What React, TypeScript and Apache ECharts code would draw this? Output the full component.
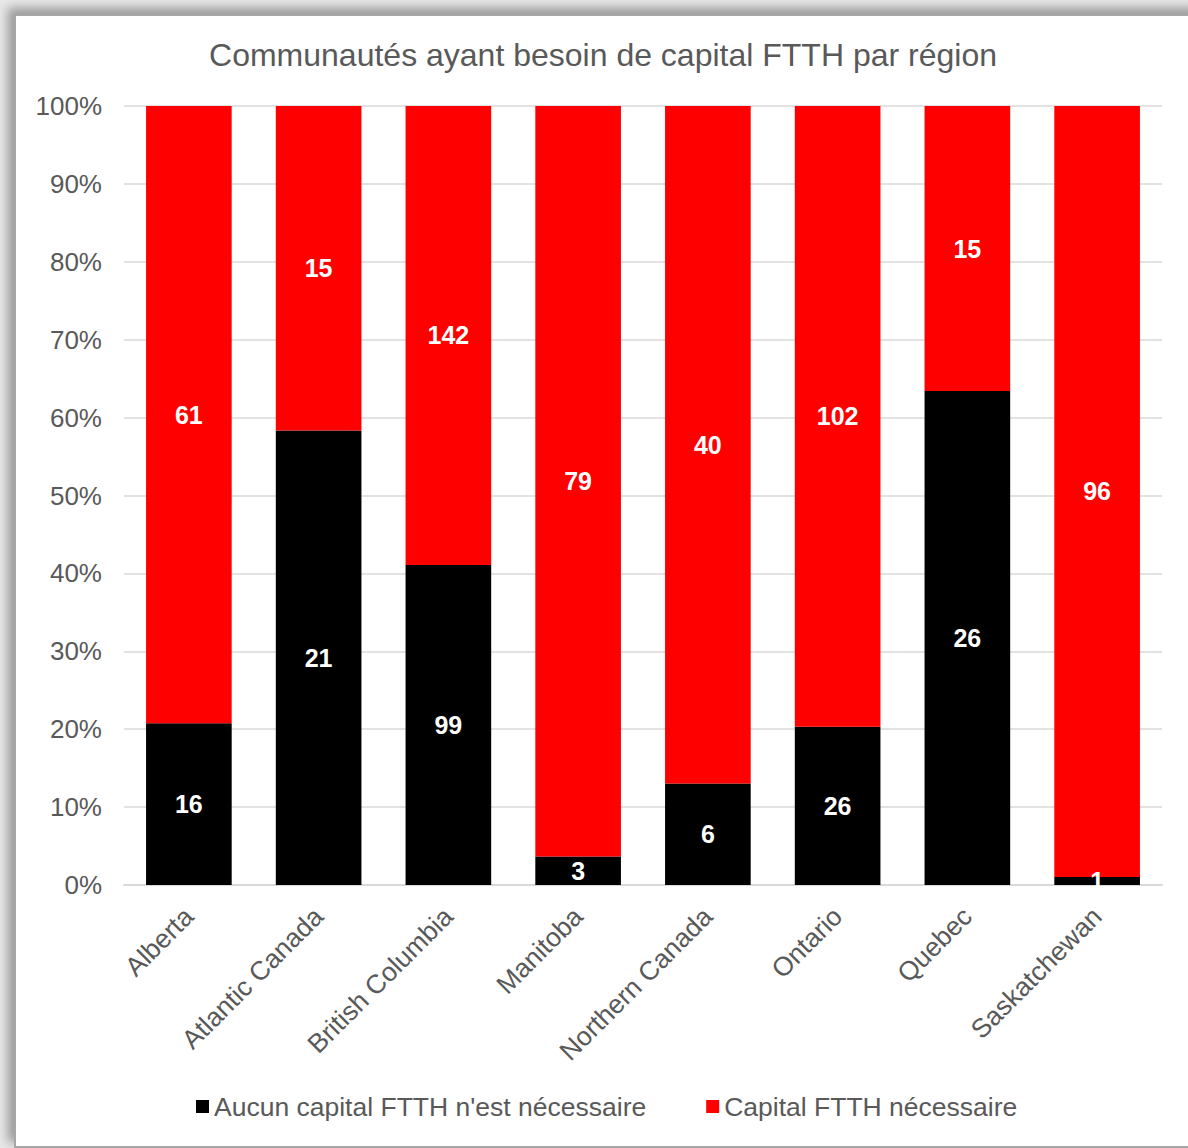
import React, { useEffect, useRef } from "react";
import * as echarts from "echarts";

const categories = [
  "Alberta",
  "Atlantic Canada",
  "British Columbia",
  "Manitoba",
  "Northern Canada",
  "Ontario",
  "Quebec",
  "Saskatchewan",
];
const noCapital = [16, 21, 99, 3, 6, 26, 26, 1];
const capitalNeeded = [61, 15, 142, 79, 40, 102, 15, 96];
const seriesNames = ["Aucun capital FTTH n'est nécessaire", "Capital FTTH nécessaire"];
const titleText = "Communautés ayant besoin de capital FTTH par région";

const FONT = "'Liberation Sans', Arial, sans-serif";
const GREY = "#595959";

export default function App() {
  const ref = useRef<HTMLDivElement>(null);
  useEffect(() => {
    if (!ref.current) return;
    const chart = echarts.init(ref.current, undefined, { renderer: "svg" });
    const totals = categories.map((_, i) => noCapital[i] + capitalNeeded[i]);
    const mk = (arr: number[]) =>
      arr.map((v, i) => ({ value: (v / totals[i]) * 100, raw: v }));
    const label = {
      show: true,
      position: "inside",
      color: "#fff",
      fontWeight: "bold",
      fontSize: 25,
      fontFamily: FONT,
      formatter: (p: any) => String(p.data.raw),
    };
    chart.setOption({
      animation: false,
      textStyle: { fontFamily: FONT },
      graphic: [
        {
          type: "text",
          x: 603,
          y: 55,
          style: {
            text: titleText,
            fill: GREY,
            font: `32px ${FONT}`,
            textAlign: "center",
            textVerticalAlign: "middle",
          },
        },
      ],
      grid: { left: 124, right: 26, top: 106, bottom: 263, containLabel: false },
      legend: {
        bottom: 23,
        left: 191,
        icon: "rect",
        itemWidth: 13,
        itemHeight: 13,
        itemGap: 60,
        itemTextGap: 7,
        textStyle: { color: GREY, fontSize: 26.5, fontFamily: FONT },
        data: seriesNames,
      },
      xAxis: {
        type: "category",
        data: categories,
        axisLine: { lineStyle: { color: "#d9d9d9", width: 2 } },
        axisTick: { show: false },
        axisLabel: {
          rotate: 45,
          color: GREY,
          fontSize: 26.5,
          fontFamily: FONT,
          margin: 27,
          interval: 0,
        },
      },
      yAxis: {
        type: "value",
        min: 0,
        max: 100,
        interval: 10,
        axisLabel: {
          formatter: "{value}%",
          color: GREY,
          fontSize: 26,
          fontFamily: FONT,
          margin: 22,
        },
        axisLine: { show: false },
        splitLine: { lineStyle: { color: "#d9d9d9", width: 1.5 } },
      },
      series: [
        {
          name: seriesNames[0],
          type: "bar",
          stack: "s",
          barWidth: "66%",
          itemStyle: { color: "#000000" },
          label,
          data: mk(noCapital),
        },
        {
          name: seriesNames[1],
          type: "bar",
          stack: "s",
          barWidth: "66%",
          itemStyle: { color: "#ff0000" },
          label,
          data: mk(capitalNeeded),
        },
      ],
    });
    return () => chart.dispose();
  }, []);

  return (
    <div
      style={{
        position: "absolute",
        left: 0,
        top: 0,
        width: 1188,
        height: 1148,
        overflow: "hidden",
        background: "#e8e8e8",
      }}
    >
      <div
        style={{
          position: "absolute",
          left: 14,
          top: 14,
          width: 1200,
          height: 1130,
          background: "#fff",
          border: "2px solid #a6a6a6",
          boxShadow: "-6px -6px 10px rgba(0,0,0,0.35)",
        }}
      />
      <div
        ref={ref}
        style={{ position: "absolute", left: 0, top: 0, width: 1188, height: 1148 }}
      />
    </div>
  );
}
